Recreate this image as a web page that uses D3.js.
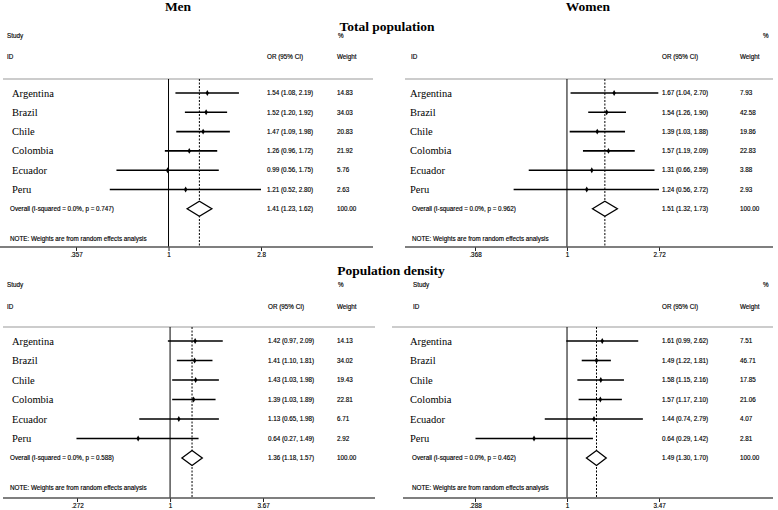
<!DOCTYPE html>
<html>
<head>
<meta charset="utf-8">
<script src="https://cdn.jsdelivr.net/npm/d3@7"></script>
<style>
  body { margin: 0; background: #fff; }
  svg { display: block; }
</style>
</head>
<body>
<div id="chart"></div>
<script>
// Study rows (same for every panel)
const countries = ["Argentina", "Brazil", "Chile", "Colombia", "Ecuador", "Peru"];

// Men, total population
const menTotalOR = [1.54, 1.52, 1.47, 1.26, 0.99, 1.21];
const menTotalLo = [1.08, 1.20, 1.09, 0.96, 0.56, 0.52];
const menTotalHi = [2.19, 1.92, 1.98, 1.72, 1.75, 2.80];
const menTotalWeight = [14.83, 34.03, 20.83, 21.92, 5.76, 2.63];
const menTotalOverall = [1.41, 1.23, 1.62];
const menTotalP = "0.747";
const menTotalTicks = [0.357, 1, 2.8];

// Women, total population
const womenTotalOR = [1.67, 1.54, 1.39, 1.57, 1.31, 1.24];
const womenTotalLo = [1.04, 1.26, 1.03, 1.19, 0.66, 0.56];
const womenTotalHi = [2.70, 1.90, 1.88, 2.09, 2.59, 2.72];
const womenTotalWeight = [7.93, 42.58, 19.86, 22.83, 3.88, 2.93];
const womenTotalOverall = [1.51, 1.32, 1.73];
const womenTotalP = "0.962";
const womenTotalTicks = [0.368, 1, 2.72];

// Men, population density
const menDensOR = [1.42, 1.41, 1.43, 1.39, 1.13, 0.64];
const menDensLo = [0.97, 1.10, 1.03, 1.03, 0.65, 0.27];
const menDensHi = [2.09, 1.81, 1.98, 1.89, 1.98, 1.49];
const menDensWeight = [14.13, 34.02, 19.43, 22.81, 6.71, 2.92];
const menDensOverall = [1.36, 1.18, 1.57];
const menDensP = "0.588";
const menDensTicks = [0.272, 1, 3.67];

// Women, population density
const womenDensOR = [1.61, 1.49, 1.58, 1.57, 1.44, 0.64];
const womenDensLo = [0.99, 1.22, 1.15, 1.17, 0.74, 0.29];
const womenDensHi = [2.62, 1.81, 2.16, 2.10, 2.79, 1.42];
const womenDensWeight = [7.51, 46.71, 17.85, 21.06, 4.07, 2.81];
const womenDensOverall = [1.49, 1.30, 1.70];
const womenDensP = "0.462";
const womenDensTicks = [0.288, 1, 3.47];

const W = 778, H = 510;
const serif = "'Liberation Serif', 'Times New Roman', serif";
const sans = "'Liberation Sans', Arial, sans-serif";
const f2 = d3.format(".2f");
const tickFmt = v => v === 1 ? "1" : String(v).replace(/^0\./, ".");

const svg = d3.select("#chart").append("svg")
    .attr("width", W)
    .attr("height", H);

// Layout of each panel (pixel positions only)
const panels = [
  { or: menTotalOR, lo: menTotalLo, hi: menTotalHi, w: menTotalWeight, ov: menTotalOverall, p: menTotalP,
    ticks: menTotalTicks, xr: [76, 261], top: 0, study: true,
    xLab: 12, xHead: 7, xOv: 10, xVal: 267, xWt: 337, xPct: 338,
    sepX: [3, 373], axX: [0, 373] },
  { or: womenTotalOR, lo: womenTotalLo, hi: womenTotalHi, w: womenTotalWeight, ov: womenTotalOverall, p: womenTotalP,
    ticks: womenTotalTicks, xr: [475, 659], top: 0, study: false,
    xLab: 410, xHead: 411, xOv: 412, xVal: 662, xWt: 740, xPct: 763,
    sepX: [405, 773], axX: [405, 773] },
  { or: menDensOR, lo: menDensLo, hi: menDensHi, w: menDensWeight, ov: menDensOverall, p: menDensP,
    ticks: menDensTicks, xr: [77, 263], top: 1, study: true,
    xLab: 12, xHead: 7, xOv: 10, xVal: 268, xWt: 337, xPct: 338,
    sepX: [3, 375], axX: [3, 375] },
  { or: womenDensOR, lo: womenDensLo, hi: womenDensHi, w: womenDensWeight, ov: womenDensOverall, p: womenDensP,
    ticks: womenDensTicks, xr: [475, 659], top: 1, study: true,
    xLab: 410, xHead: 413, xOv: 412, xVal: 662, xWt: 740, xPct: 763,
    sepX: [392, 773], axX: [403, 773] }
];

// vertical layout of the two panel rows
const rowsY = [
  { study: 38, id: 58.5, sep: 79, rows: [93, 208.8], note: 241, axis: 247 },
  { study: 287, id: 309, sep: 327, rows: [341, 458], note: 490, axis: 498 }
];

panels.forEach(pn => {
  const ly = rowsY[pn.top];
  const g = svg.append("g");
  const x = d3.scaleLog().domain([pn.ticks[0], pn.ticks[2]]).range(pn.xr);
  const y = d3.scalePoint().domain([...countries, "Overall"]).range(ly.rows);

  const small = (t, xx, yy) => g.append("text")
      .attr("x", xx).attr("y", yy)
      .attr("font-family", sans).attr("font-size", 6.3)
      .attr("fill", "#000")
      .attr("stroke", "#000").attr("stroke-width", 0.15)
      .text(t);

  // header
  if (pn.study) small("Study", pn.xHead, ly.study);
  small("%", pn.xPct, ly.study);
  small("ID", pn.xHead, ly.id);
  small("OR (95% CI)", pn.xVal, ly.id);
  small("Weight", pn.xWt, ly.id);

  g.append("line")
      .attr("x1", pn.sepX[0]).attr("x2", pn.sepX[1])
      .attr("y1", ly.sep).attr("y2", ly.sep)
      .attr("stroke", "#999").attr("stroke-width", 1);

  // null line and overall line
  g.append("line")
      .attr("x1", x(1)).attr("x2", x(1))
      .attr("y1", ly.sep).attr("y2", ly.axis)
      .attr("stroke", "#000").attr("stroke-width", 1);
  g.append("line")
      .attr("x1", x(pn.ov[0])).attr("x2", x(pn.ov[0]))
      .attr("y1", ly.sep).attr("y2", ly.axis)
      .attr("stroke", "#000").attr("stroke-width", 1)
      .attr("stroke-dasharray", "2,1.5");

  const rows = countries.map((c, i) => ({ c, or: pn.or[i], lo: pn.lo[i], hi: pn.hi[i], w: pn.w[i] }));

  // CIs
  g.selectAll(".ci").data(rows).enter().append("line")
      .attr("x1", d => x(d.lo)).attr("x2", d => x(d.hi))
      .attr("y1", d => y(d.c)).attr("y2", d => y(d.c))
      .attr("stroke", "#000").attr("stroke-width", 1.6);

  // point estimates
  g.selectAll(".pt").data(rows).enter().append("path")
      .attr("d", d3.symbol(d3.symbolDiamond, 10))
      .attr("transform", d => `translate(${x(d.or)},${y(d.c)})`)
      .attr("fill", "#000");

  // labels
  g.selectAll(".lab").data(rows).enter().append("text")
      .attr("x", pn.xLab).attr("y", d => y(d.c) + 3.5)
      .attr("font-family", serif).attr("font-size", 10.5)
      .attr("fill", "#000")
      .text(d => d.c);

  rows.forEach(d => {
    small(`${f2(d.or)} (${f2(d.lo)}, ${f2(d.hi)})`, pn.xVal, y(d.c) + 2.2);
    small(f2(d.w), pn.xWt, y(d.c) + 2.2);
  });

  // overall diamond
  const oy = y("Overall");
  g.append("path")
      .attr("d", `M${x(pn.ov[1])},${oy} L${x(pn.ov[0])},${oy - 7.5} L${x(pn.ov[2])},${oy} L${x(pn.ov[0])},${oy + 7.5} Z`)
      .attr("fill", "#fff").attr("stroke", "#000").attr("stroke-width", 1.3);
  small(`Overall  (I-squared = 0.0%, p = ${pn.p})`, pn.xOv, oy + 2.2);
  small(f2(pn.ov[0]) + " (" + f2(pn.ov[1]) + ", " + f2(pn.ov[2]) + ")", pn.xVal, oy + 2.2);
  small("100.00", pn.xWt, oy + 2.2);

  small("NOTE: Weights are from random effects analysis", pn.xOv, ly.note);

  // x axis
  const ax = g.append("g")
      .attr("transform", `translate(0,${ly.axis})`)
      .call(d3.axisBottom(x).tickValues(pn.ticks).tickFormat(tickFmt).tickSize(4).tickPadding(2));
  ax.select(".domain").remove();
  ax.selectAll(".tick line").attr("stroke", "#222");
  ax.selectAll("text")
      .attr("font-family", sans).attr("font-size", 6.3).attr("fill", "#000")
      .attr("stroke", "#000").attr("stroke-width", 0.15);
  g.append("line")
      .attr("x1", pn.axX[0]).attr("x2", pn.axX[1])
      .attr("y1", ly.axis).attr("y2", ly.axis)
      .attr("stroke", "#555").attr("stroke-width", 1.5);
});

// titles
const title = (t, xx, yy) => svg.append("text")
    .attr("x", xx).attr("y", yy)
    .attr("text-anchor", "middle")
    .attr("font-family", serif).attr("font-weight", "bold")
    .attr("font-size", 13.5).attr("fill", "#000")
    .text(t);
title("Men", 178, 11);
title("Women", 588, 11);
title("Total population", 387, 30.5);
title("Population density", 391, 275);
</script>
</body>
</html>
